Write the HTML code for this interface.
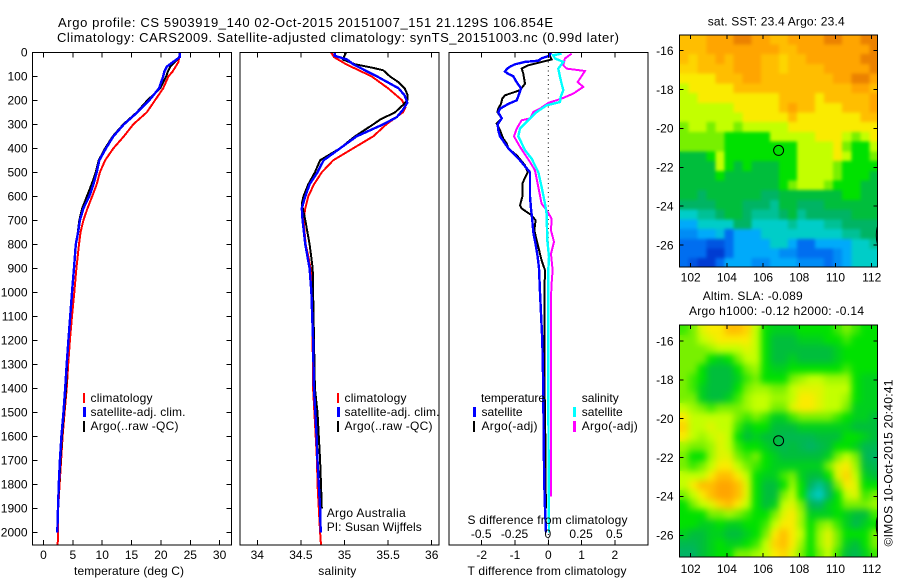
<!DOCTYPE html>
<html lang="en">
<head>
<meta charset="utf-8">
<title>Argo profile</title>
<style>
html,body{margin:0;padding:0;background:#fff;}
svg{display:block;}
svg rect{shape-rendering:crispEdges;}
text{font-family:"Liberation Sans",sans-serif;font-size:12px;fill:#000;}
text.title{font-size:13px;}
.box{fill:none;stroke:#000;stroke-width:1.2;shape-rendering:crispEdges;}
</style>
</head>
<body>
<svg id="fig" width="900" height="580" viewBox="0 0 900 580" xmlns="http://www.w3.org/2000/svg">
<defs>
<clipPath id="clip-temp"><rect x="32.5" y="52.5" width="199" height="492.5"/></clipPath>
<clipPath id="clip-sal"><rect x="240" y="52.5" width="199" height="492.5"/></clipPath>
<clipPath id="clip-diff"><rect x="449" y="52.5" width="199" height="492.5"/></clipPath>
<clipPath id="clip-sst"><rect x="679.5" y="35" width="198" height="232"/></clipPath>
<clipPath id="clip-sla"><rect x="679.5" y="325" width="198" height="232"/></clipPath>
<filter id="soften-sst" x="-5%" y="-5%" width="110%" height="110%" color-interpolation-filters="sRGB">
  <feGaussianBlur in="SourceGraphic" stdDeviation="1.5" result="b"/>
  <feMerge><feMergeNode in="SourceGraphic"/><feMergeNode in="b"/></feMerge>
</filter>
<filter id="soften-sla" x="-5%" y="-5%" width="110%" height="110%" color-interpolation-filters="sRGB">
  <feGaussianBlur in="SourceGraphic" stdDeviation="3.5" result="b"/>
  <feMerge><feMergeNode in="SourceGraphic"/><feMergeNode in="b"/></feMerge>
</filter>
</defs>

<text class="title" x="58" y="27" textLength="495" lengthAdjust="spacing">Argo profile: CS 5903919_140 02-Oct-2015 20151007_151 21.129S 106.854E</text>
<text class="title" x="57" y="42" textLength="562" lengthAdjust="spacing">Climatology: CARS2009. Satellite-adjusted climatology: synTS_20151003.nc (0.99d later)</text>

<g id="temp-marks" clip-path="url(#clip-temp)"></g>
<g id="sal-marks" clip-path="url(#clip-sal)"></g>
<g id="diff-marks" clip-path="url(#clip-diff)"></g>
<g clip-path="url(#clip-sst)">
  <g id="sst-cells" filter="url(#soften-sst)"></g>
  <g id="sst-overlay"></g>
</g>
<g clip-path="url(#clip-sla)">
  <g id="sla-cells" filter="url(#soften-sla)"></g>
  <g id="sla-overlay"></g>
</g>

<rect class="box" x="32.5" y="52.5" width="199" height="492.5"/>
<rect class="box" x="240" y="52.5" width="199" height="492.5"/>
<rect class="box" x="449" y="52.5" width="199" height="492.5"/>
<rect class="box" x="679.5" y="35" width="198" height="232"/>
<rect class="box" x="679.5" y="325" width="198" height="232"/>

<g id="axes"></g>

<g>
  <rect x="83" y="393" width="2" height="10" fill="#f00"/>
  <rect x="83" y="407" width="3" height="10" fill="#00f"/>
  <rect x="83" y="421" width="2" height="11" fill="#000"/>
  <text x="90.5" y="402" textLength="62" lengthAdjust="spacing">climatology</text>
  <text x="90.5" y="416" textLength="95" lengthAdjust="spacing">satellite-adj. clim.</text>
  <text x="90.5" y="430" textLength="88" lengthAdjust="spacing">Argo(..raw -QC)</text>
</g>
<g>
  <rect x="337" y="393" width="2" height="10" fill="#f00"/>
  <rect x="337" y="407" width="3" height="10" fill="#00f"/>
  <rect x="337" y="421" width="2" height="11" fill="#000"/>
  <text x="344.5" y="402" textLength="62" lengthAdjust="spacing">climatology</text>
  <text x="344.5" y="416" textLength="95" lengthAdjust="spacing">satellite-adj. clim.</text>
  <text x="344.5" y="430" textLength="88" lengthAdjust="spacing">Argo(..raw -QC)</text>
</g>
<text x="326.7" y="517" textLength="79" lengthAdjust="spacing">Argo Australia</text>
<text x="326.7" y="531" textLength="95" lengthAdjust="spacing">PI: Susan Wijffels</text>

<g>
  <text x="481" y="402" textLength="64" lengthAdjust="spacing">temperature</text>
  <rect x="473" y="407" width="3" height="10" fill="#00f"/>
  <rect x="473" y="421" width="2" height="11" fill="#000"/>
  <text x="481.5" y="416" textLength="41" lengthAdjust="spacing">satellite</text>
  <text x="481.5" y="430" textLength="56" lengthAdjust="spacing">Argo(-adj)</text>
  <text x="581.7" y="402" textLength="37" lengthAdjust="spacing">salinity</text>
  <rect x="573" y="407" width="3" height="10" fill="#0ff"/>
  <rect x="573" y="421" width="3" height="11" fill="#f0f"/>
  <text x="581.7" y="416" textLength="41" lengthAdjust="spacing">satellite</text>
  <text x="581.7" y="430" textLength="56" lengthAdjust="spacing">Argo(-adj)</text>
</g>

<text x="74" y="575" textLength="110" lengthAdjust="spacing">temperature (deg C)</text>
<text x="318.3" y="575" textLength="38" lengthAdjust="spacing">salinity</text>
<text x="467.5" y="575" textLength="159" lengthAdjust="spacing">T difference from climatology</text>
<text x="467.5" y="524" textLength="160" lengthAdjust="spacing">S difference from climatology</text>

<text x="707.7" y="25.5" textLength="137" lengthAdjust="spacing">sat. SST: 23.4  Argo: 23.4</text>
<text x="702.7" y="300" textLength="100" lengthAdjust="spacing">Altim. SLA: -0.089</text>
<text x="689" y="315" textLength="175" lengthAdjust="spacing">Argo h1000: -0.12 h2000: -0.14</text>
<text transform="translate(892.5,546.5) rotate(-90)" textLength="167" lengthAdjust="spacing">©IMOS 10-Oct-2015 20:40:41</text>
</svg>

<script>
// ---- axis tick values / labels ----
const depthTicks = [0,100,200,300,400,500,600,700,800,900,1000,1100,1200,1300,1400,1500,1600,1700,1800,1900,2000];
const tempTicks = [0,5,10,15,20,25,30];
const salTicks = [34,34.5,35,35.5,36];
const diffTTicks = [-2,-1,0,1,2];
const diffSTicks = [-0.5,-0.25,0,0.25,0.5];
const lonTicks = [102,104,106,108,110,112];
const latTicks = [-16,-18,-20,-22,-24,-26];

// ---- temperature panel ----
const tempDepths = [0,20,40,60,80,100,150,200,250,300,350,400,450,500,550,600,650,700,750,800,900,1000,1100,1200,1300,1400,1500,1600,1700,1800,1900,2000,2054];
const tempClimatology = [23.25,23.1,23.0,22.5,22.0,21.3,20.4,19.0,17.6,15.3,13.7,11.9,10.5,9.6,9.06,8.3,7.5,6.8,6.3,6.05,5.6,5.25,4.85,4.5,4.2,3.95,3.6,3.25,3.0,2.75,2.5,2.45,2.42];
const tempArgo = [23.3,23.2,22.4,21.6,21.2,20.9,19.9,17.7,15.9,13.6,11.8,10.5,9.4,8.9,8.2,7.4,6.6,6.1,5.85,5.5,5.2,4.85,4.55,4.25,4.0,3.85,3.5,3.15,2.9,2.65,2.5,null,null];
const tempSatellite = [23.25,23.2,22.1,21.0,20.6,20.4,19.7,18.0,16.0,13.7,11.9,10.65,9.5,9.06,8.5,7.8,6.8,6.2,5.9,5.5,5.2,4.85,4.55,4.25,3.95,3.7,3.4,3.05,2.8,2.6,2.47,2.35,null];

// ---- salinity panel ----
const salClimDepths = [0,20,50,100,150,200,230,250,300,350,400,450,500,550,600,650,700,800,850,900,1000,1400,1500,1600,1700,1800,1900,2000,2054];
const salClimatology = [34.845,34.88,35.02,35.31,35.5,35.66,35.7,35.67,35.48,35.33,35.1,34.87,34.74,34.65,34.585,34.55,34.53,34.555,34.585,34.61,34.63,34.64,34.655,34.67,34.685,34.69,34.705,34.72,34.73];
const salSatDepths = [0,15,30,50,100,150,180,210,240,270,300,350,400,450,500,550,600,650,700,800,900,1000,1100,1200,1300,1400,1500,1600,1700,1800,1900,2000];
const salSatellite = [34.89,34.89,35.03,35.1,35.37,35.62,35.69,35.72,35.67,35.6,35.445,35.14,34.95,34.76,34.69,34.6,34.55,34.51,34.52,34.55,34.6,34.62,34.63,34.64,34.645,34.65,34.665,34.68,34.69,34.705,34.72,34.727];
const salArgoDepths = [0,15,30,50,65,75,100,125,150,175,200,220,250,280,300,350,400,450,500,550,600,630,700,800,900,1000,1400,1500,1600,1700,1800,1900];
const salArgo = [35.02,35.0,34.98,35.12,35.33,35.445,35.52,35.62,35.69,35.72,35.72,35.67,35.58,35.41,35.33,35.12,34.95,34.72,34.66,34.585,34.53,34.51,34.55,34.6,34.635,34.64,34.66,34.69,34.705,34.72,34.73,34.74];

// ---- difference panel ----
const diffTArgoDepths = [0,15,30,54,68,89,131,158,179,193,214,235,249,276,297,325,360,380,401,429,471,499,547,596,638,651,679,700,742,811,867,908,1019,1200,1400,1600,1800,1900];
const diffTArgo = [0.05,0.05,0.1,-0.6,-0.8,-0.75,-0.7,-0.85,-1.3,-1.38,-1.42,-1.5,-1.53,-1.4,-1.55,-1.45,-1.35,-1.25,-1.2,-0.95,-0.7,-0.62,-0.78,-0.77,-0.85,-0.8,-0.5,-0.38,-0.42,-0.3,-0.2,-0.1,-0.12,-0.12,-0.11,-0.09,-0.08,-0.07];
const diffTSatDepths = [0,15,25,35,40,50,60,70,80,90,100,125,150,175,200,215,235,250,275,300,325,350,400,450,500,550,600,650,700,750,800,850,900,1000,1200,1400,1600,1800,1900,2000];
const diffTSatellite = [0.08,0.02,-0.2,-0.3,-0.7,-1.0,-1.15,-1.25,-1.3,-1.2,-1.05,-0.95,-0.82,-0.88,-0.95,-1.2,-1.45,-1.5,-1.4,-1.52,-1.5,-1.45,-1.2,-0.85,-0.55,-0.55,-0.55,-0.52,-0.48,-0.45,-0.38,-0.32,-0.28,-0.25,-0.18,-0.15,-0.14,-0.12,-0.1,-0.07];
const diffSArgoDepths = [6,26,54,68,78,110,124,144,172,193,211,235,249,276,283,318,350,394,457,492,561,631,658,693,742,790,839,908,964,1019,1400,1700,1850];
const diffSArgo = [0.175,0.125,0.1125,0.1375,0.275,0.2375,0.22,0.2625,0.1875,0.1,0,-0.0625,-0.1125,-0.1375,-0.2,-0.2375,-0.2575,-0.2125,-0.1375,-0.1,-0.075,-0.05,-0.0125,0.025,0.02,0.0425,0.02,0.0325,0.025,0.02,0.02,0.02,0.02];
const diffSSatDepths = [6,12,26,40,68,103,131,158,186,207,221,249,283,318,350,408,443,499,561,631,672,783,853,908,1019,1400,1700,2000];
const diffSSatellite = [0.1,0.0375,0.05,0.1125,0.075,0.0875,0.1,0.1125,0.0925,0.0875,-0.0125,-0.0875,-0.15,-0.2125,-0.225,-0.175,-0.125,-0.075,-0.05,-0.025,-0.0125,-0.0075,0.005,0,0,0,0.002,0.005];

// ---- SST map levels (colour-scale level, north to south) ----
const sstRows = [
[10,10,10,11,11,11,12,12,11,11,10,10,11,11,11,11,12,12,11,11,12,12],
[10,10,10,11,11,11,11,11,11,11,11,10,10,11,11,11,11,11,11,11,11,12],
[10,9.5,10,10,11,10,11,11,11,10,10,9.5,10,10,11,11,11,11,11,11,12,12],
[9.5,9.5,10,10,10,10,11,11,11,10,10,9.5,10,10,10,10,11,11,11,11,11,12],
[9,9,9,9,10,10,10,11,11,10,10,10,10,10,10,10,10,11,11,12,12,11],
[8,9,9,9,9,9,10,10,10,10,10,10,10,10,10,10,10,10,10,11,11,10],
[8,8,9,9,9,9,9,9,9,9,9,10,10,10,10,9,10,10,10,10,10,11],
[8,8,8,8,8,8,9,9,9,9,9,10,11,10,10,9,9,9,10,10,10,11],
[8,8,8,8,8,8,8,9,9,9,9,9,10,9,9,9,9,9,9,9,10,10],
[7,8,8,7,8,8,7,8,8,8,8,8,9,9,9,9,9,9,9,9,9,9],
[7,7,7,7,7,6,6,6,6,6,8,8,8,8,8,9,9,9,8,7,8,9],
[7,7,7,7,7,6,6,6,6,6,6,6,6,8,8,8,8,9,7,6,6,8],
[5,5,5,6,8,6,6,6,6,6,6,6,6,8,8,8,8,9,8,6,6,7],
[5,5,5,5,8,6,5,6,5,5,5,6,6,8,8,8,8,7,6,6,6,6],
[5,5,5,5,6,5,5,5,5,5,5,6,6,8,8,8,8,7,6,6,6,5],
[5,5,5,5,5,5,5,5,5,5,5,6,7,8,8,8,7,6,6,6,5,5],
[5,5,4,5,5,5,5,5,5,4,4,5,5,5,5,5,5,5,6,6,5,5],
[4,4,4,4,5,5,5,4,4,4,3.5,5,5,4,4,4,5,5,5,5,5,5],
[3,3,3.5,3.5,4,5,5,4,3.5,3.5,3.5,4,5,3.5,4,4,4,4,4,5,5,5],
[2,2,3,3,3,3,4,4,3,3,3,3,3.5,3,3,3,3.5,3.5,4,4,4,4],
[1.5,1.5,2,2,2.5,1,2,2,2,3,3,3,3,3,3,3,3,3,3.5,3.5,4,4],
[1,1,1,0.5,0.5,1,2,2,2,2,3,3,2,1,1,2,2,2,2,3,3,3.5],
[1,1,1,0,0,1,2,2,2,2,2,1.5,1.5,1,1,1,1,1.5,2,3,3,3],
[1,0.5,0,0,1,2,2,2,1.5,1.5,2,2,2,1.5,1.5,1.5,1,1.5,2,3,3,3]
];

// ---- SLA map levels (colour-scale level, north to south) ----
const slaRows = [
[6.5,7,8.5,9,9,10,10,9.5,8,6,5.5,5.5,5.5,6,6,6,6,6.5,7,6.5,6,6],
[7,7,8,8.5,9,9,9,9,8,6,5,5,5,5.5,5.5,5.5,6,6,6.5,6,6,6],
[7,7,7,7.5,8,8,8,8.5,8,6,5,5,5,5,5,5,5,5.5,6,6,6,6],
[7,7,7,6,5.5,6,7,8,8,6,5,5,5.5,5,5,5,5,5.5,6,6,6,6],
[7,7,6,5,5,5,6,7,7.5,6,5.5,5.5,6,6,6,6,6,6,6.5,6,6,6],
[7,6.5,6,5,5,5,5.5,6.5,7,6,6,6,7,7.5,8,8,7.5,7.5,7.5,6,5.5,5.5],
[7,6.5,5.5,5,5,5,6,7,7.5,7.5,7,7,8,8.5,8.5,8.5,8,8,8,6,5.5,5.5],
[7,7,5.5,5,5,5.5,6.5,7.5,8,8,7.5,7.5,8,9,9,8.5,8,8,7.5,6,5.5,5.5],
[8,7.5,7,6.5,7,7,7,7.5,8,8,7,7,8.5,9,9,8.5,8,8,7,5.5,5.5,5.5],
[9,8,8,8,8,8,7,6.5,7,6.5,5.5,5.5,6.5,7,7,7,7,6.5,6,5.5,5.5,5],
[9.5,8,8,8.5,8,8,6.5,5.5,6,6,5,5,5,5.5,5.5,5.5,5.5,5.5,5.5,5,5,5],
[9,8,7.5,8,8.5,8,6,5,5.5,5,5,4.5,4.5,4.5,4.5,5,5,5,6,6,5.5,5],
[7.5,7,7,7.5,8.5,8,6.5,6,6,5.5,5,4.5,5,4.5,4,4.5,5,6,6,5.5,4.5,4.5],
[7,6,6,7.5,8.5,8.5,7,6.5,7,6,5.5,5,5,5,5,5,5.5,7,8,7,4.5,4],
[7,6.5,7,8,9,9,8,7,6.5,6,5.5,5.5,5.5,5.5,5.5,5.5,7,8.5,9,7.5,5,4.5],
[8,8,8,9,10,10,9,8,6,5.5,5.5,6.5,7,5.5,5,5,6,8.5,9.5,8,5.5,5],
[8,9,10,10,11,11,10,8.5,6,5,5,6,7.5,6,4,3.5,4.5,7,9,8.5,6,6],
[7,8,9,10,11,11,10,8.5,6,5,5,7,8,6,3.5,3,4,6,8,8.5,6.5,7],
[6,7,8,8.5,9.5,10,9,8,6,5,5.5,8,8.5,7,4.5,4,5.5,6,7,7,7,7.5],
[6,6,6,7,7,7.5,7,6.5,6,6,7,8.5,9,7.5,5.5,5.5,5.5,6,5.5,5,5,6.5],
[6,6,5.5,5.5,6,5.5,5.5,6,6,6.5,8,9,9,7.5,6,7,7.5,6.5,5.5,4.5,5.5,6],
[5.5,5,5,5.5,5.5,5,5,5.5,6,7,9,10,9,8,6,7.5,8.5,7,6,6,6,7],
[4.5,4.5,5,5.5,6,5.5,5.5,6,6.5,8,9.5,10,9,7.5,6,7.5,8.5,7,5.5,5,6,7],
[4,4,5,5.5,6,6,7,7,7.5,8,9,9.5,8.5,7,6,7,8,6.5,5,4.5,5.5,6.5]
];

// ---- colour scale stops ----
const scaleReds =   [0,0,0,0,0,0,0,120,195,250,255,255,235];
const scaleGreens = [60,110,170,205,180,190,225,240,255,235,190,165,130];
const scaleBlues =  [210,240,250,200,100,60,0,0,0,0,0,0,0];

const NS = 'http://www.w3.org/2000/svg';
function yDepth(d){return 52.3 + 0.24*d;}
function xTemp(t){return 43.5 + 5.87*t;}
function xSal(s){return 257.3 + 87.2*(s-34);}
function xDiffT(t){return 548.3 + 33.3*t;}
function xDiffS(s){return 548.3 + 133.2*s;}
function xLon(lon){return 690.7 + 18.1*(lon-102);}
function ySst(lat){return 50.7 + 19.43*(-16-lat);}
function ySla(lat){return 341 + 19.43*(-16-lat);}

function make(tag, attrs, parent){
  const el = document.createElementNS(NS, tag);
  for(const k in attrs){el.setAttribute(k, attrs[k]);}
  parent.appendChild(el);
  return el;
}

function drawLine(parentId, name, depths, values, xf, color, width){
  const pts = [];
  for(let i=0;i<depths.length;i++){
    if(values[i]===null){continue;}
    pts.push(xf(values[i]).toFixed(1)+','+yDepth(depths[i]).toFixed(1));
  }
  const el = make('polyline',{points:pts.join(' '),fill:'none',stroke:color,'stroke-width':width,'shape-rendering':'crispEdges'},document.getElementById(parentId));
  
  
}

const axes = document.getElementById('axes');
function tick(x1,y1,x2,y2){
  const el = make('line',{x1:x1,y1:y1,x2:x2,y2:y2,stroke:'#000','stroke-width':1,'shape-rendering':'crispEdges'},axes);
  
  
}
function label(x,y,str,anchor){
  const el = make('text',{x:x,y:y,'text-anchor':anchor},axes);
  el.textContent = str;
  
  
}

// temperature panel
drawLine('temp-marks','temperature-climatology-line',tempDepths,tempClimatology,xTemp,'#f00',2);
drawLine('temp-marks','temperature-argo-line',tempDepths,tempArgo,xTemp,'#000',2);
drawLine('temp-marks','temperature-satellite-line',tempDepths,tempSatellite,xTemp,'#00f',2.4);
depthTicks.forEach(function(d){
  const y = yDepth(d);
  tick(32.5,y,37.5,y); tick(226.5,y,231.5,y);
  label(27.5,y+4.3,String(d),'end');
});
tempTicks.forEach(function(t){
  const x = xTemp(t);
  tick(x,52.5,x,57.5); tick(x,540,x,545);
  label(x,559,String(t),'middle');
});

// salinity panel
drawLine('sal-marks','salinity-climatology-line',salClimDepths,salClimatology,xSal,'#f00',2);
drawLine('sal-marks','salinity-argo-line',salArgoDepths,salArgo,xSal,'#000',2);
drawLine('sal-marks','salinity-satellite-line',salSatDepths,salSatellite,xSal,'#00f',2.4);
salTicks.forEach(function(s){
  const x = xSal(s);
  tick(x,52.5,x,57.5); tick(x,540,x,545);
  label(x,559,String(s),'middle');
});

// difference panel
const zero = make('line',{x1:xDiffT(0),y1:52.5,x2:xDiffT(0),y2:545,stroke:'#000','stroke-width':1,'stroke-dasharray':'1 3.5'},document.getElementById('diff-marks'));


drawLine('diff-marks','t-diff-argo-line',diffTArgoDepths,diffTArgo,xDiffT,'#000',2);
drawLine('diff-marks','t-diff-satellite-line',diffTSatDepths,diffTSatellite,xDiffT,'#00f',2.4);
drawLine('diff-marks','s-diff-argo-line',diffSArgoDepths,diffSArgo,xDiffS,'#f0f',2);
drawLine('diff-marks','s-diff-satellite-line',diffSSatDepths,diffSSatellite,xDiffS,'#0ff',2.4);
diffTTicks.forEach(function(t){
  const x = xDiffT(t);
  tick(x,52.5,x,57.5); tick(x,540,x,545);
  label(x,559,String(t),'middle');
});
diffSTicks.forEach(function(s){
  label(xDiffS(s)-0.5,538,String(s),'middle');
});

// maps
function levelColor(v){
  const i = Math.min(Math.floor(v), scaleReds.length-2);
  const f = v-i;
  const r = scaleReds[i]+(scaleReds[i+1]-scaleReds[i])*f;
  const g = scaleGreens[i]+(scaleGreens[i+1]-scaleGreens[i])*f;
  const b = scaleBlues[i]+(scaleBlues[i+1]-scaleBlues[i])*f;
  return 'rgb('+Math.round(r)+','+Math.round(g)+','+Math.round(b)+')';
}
function drawMap(parentId, rows, yf, cellName){
  const parent = document.getElementById(parentId);
  const lon0 = 101.37, dLon = 0.5, lat0 = -15.18, dLat = 0.5;
  rows.forEach(function(row,r){
    row.forEach(function(v,c){
      const x = xLon(lon0+c*dLon), y = yf(lat0-r*dLat);
      const w = xLon(lon0+dLon)-xLon(lon0), h = yf(lat0-dLat)-yf(lat0);
      const el = make('rect',{x:x.toFixed(2),y:y.toFixed(2),width:(w+0.6).toFixed(2),height:(h+0.6).toFixed(2),fill:levelColor(v),'shape-rendering':'crispEdges'},parent);
      
      
    });
  });
}
drawMap('sst-cells',sstRows,ySst,'sst-cell');
drawMap('sla-cells',slaRows,ySla,'sla-cell');

function mapAxes(yf, top, bottom, labelY){
  lonTicks.forEach(function(lon){
    const x = xLon(lon);
    tick(x,top,x,top+4); tick(x,bottom-4,x,bottom);
    label(x,labelY,String(lon),'middle');
  });
  latTicks.forEach(function(lat){
    const y = yf(lat);
    tick(679.5,y,683.5,y); tick(873.5,y,877.5,y);
    label(673.5,y+4.3,String(lat),'end');
  });
}
mapAxes(ySst,35,267,281.7);
mapAxes(ySla,325,557,573);

// float position and coastline fragments
const floatLon = 106.854, floatLat = -21.129, islandLon = 112.42, islandLat = -25.5;
function mapMarks(parentId, yf, nameA, nameB){
  const p = document.getElementById(parentId);
  const c = make('circle',{cx:xLon(floatLon).toFixed(1),cy:yf(floatLat).toFixed(1),r:5,fill:'none',stroke:'#000','stroke-width':1},p);
  
  
  const e = make('ellipse',{cx:xLon(islandLon).toFixed(1),cy:yf(islandLat).toFixed(1),rx:3,ry:11,fill:'none',stroke:'#000','stroke-width':1},p);
  
  
}
mapMarks('sst-overlay',ySst,'float-position-marker','coastline-fragment');
mapMarks('sla-overlay',ySla,'float-position-marker','coastline-fragment');
</script>
</body>
</html>
